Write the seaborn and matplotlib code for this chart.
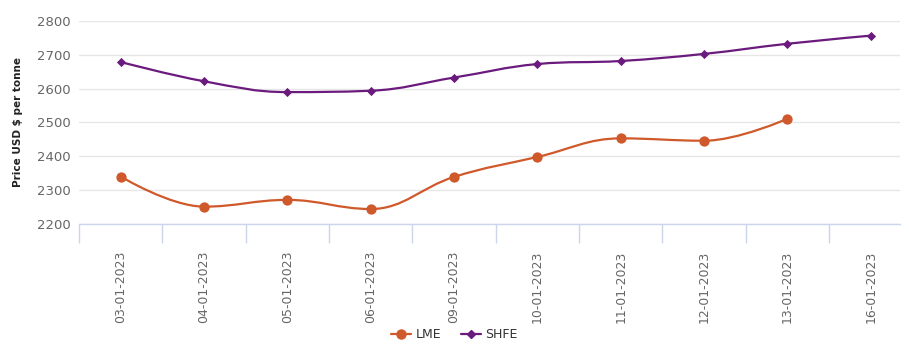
import numpy as np
import pandas as pd
import matplotlib
matplotlib.use("Agg")
import matplotlib.pyplot as plt
import seaborn as sns
from matplotlib.path import Path
from matplotlib.patches import PathPatch
from matplotlib.lines import Line2D

# data
dates = ['03-01-2023', '04-01-2023', '05-01-2023', '06-01-2023', '09-01-2023',
         '10-01-2023', '11-01-2023', '12-01-2023', '13-01-2023', '16-01-2023']
lme = [2340, 2251, 2271, 2244, 2339, 2398, 2453, 2446, 2511, None]
shfe = [2679, 2622, 2590, 2594, 2633, 2673, 2682, 2703, 2733, 2757]

lme_color = '#d0592b'
shfe_color = '#6b1a7d'


def spline_path(xs, ys, smoothing=1.5):
    # highcharts-like spline: cubic bezier through the points
    denom = smoothing + 1
    verts = [(xs[0], ys[0])]
    codes = [Path.MOVETO]
    conts = []
    n = len(xs)
    for i in range(n):
        x, y = xs[i], ys[i]
        if i == 0 or i == n - 1:
            conts.append(((x, y), (x, y)))
            continue
        lx, ly = xs[i - 1], ys[i - 1]
        nx, ny = xs[i + 1], ys[i + 1]
        lcx = (smoothing * x + lx) / denom
        lcy = (smoothing * y + ly) / denom
        rcx = (smoothing * x + nx) / denom
        rcy = (smoothing * y + ny) / denom
        if rcx != lcx:
            corr = ((rcy - lcy) * (rcx - x)) / (rcx - lcx) + y - rcy
            lcy += corr
            rcy += corr
        if lcy > ly and lcy > y:
            lcy = max(ly, y)
            rcy = 2 * y - lcy
        elif lcy < ly and lcy < y:
            lcy = min(ly, y)
            rcy = 2 * y - lcy
        if rcy > ny and rcy > y:
            rcy = max(ny, y)
            lcy = 2 * y - rcy
        elif rcy < ny and rcy < y:
            rcy = min(ny, y)
            lcy = 2 * y - rcy
        conts.append(((lcx, lcy), (rcx, rcy)))
    for i in range(1, n):
        verts += [conts[i - 1][1], conts[i][0], (xs[i], ys[i])]
        codes += [Path.CURVE4] * 3
    return Path(verts, codes)


df = pd.DataFrame({'date': dates, 'LME': lme, 'SHFE': shfe})
df['pos'] = np.arange(len(dates))

sns.set_style('white')
plt.rcParams['font.family'] = ['DejaVu Sans']

fig = plt.figure(figsize=(9.09, 3.52), dpi=100)
ax = fig.add_axes([0.087, 0.364, 0.903, 0.576])

for name, col, mk, ms in [('LME', lme_color, 'o', 55), ('SHFE', shfe_color, 'D', 22)]:
    sub = df.dropna(subset=[name])
    path = spline_path(sub['pos'].tolist(), sub[name].astype(float).tolist())
    ax.add_patch(PathPatch(path, facecolor='none', edgecolor=col, lw=1.6, zorder=3))
    sns.scatterplot(data=sub, x='pos', y=name, color=col, marker=mk, s=ms,
                    edgecolor=col, linewidth=0, ax=ax, zorder=4, legend=False)

ax.set_yticks(range(2200, 2801, 100))
ax.yaxis.grid(True, color='#e6e6e6', lw=1)
ax.set_axisbelow(True)
for s in ['top', 'right', 'left']:
    ax.spines[s].set_visible(False)
ax.spines['bottom'].set_color('#ccd6eb')
ax.spines['bottom'].set_linewidth(1)

ax.set_xticks(df['pos'])
ax.set_xticklabels(dates, rotation=90, fontsize=9, color='#666666')
# tick marks sit between the categories
ax.set_xticks(np.arange(-0.5, 9, 1), minor=True)
ax.tick_params(axis='x', which='major', bottom=False, length=0, pad=19)
ax.tick_params(axis='x', which='minor', bottom=True, length=14, color='#ccd6eb', width=1)
ax.tick_params(axis='y', length=0, labelsize=9.5, labelcolor='#666666', pad=6)
ax.set_xlim(-0.5, 9.35)
ax.set_ylim(2200, 2800)
ax.set_xlabel('')
ax.set_ylabel('Price USD $ per tonne', fontsize=7.5, fontweight='bold', color='#222222', labelpad=10)

handles = [
    Line2D([0], [0], color=lme_color, lw=1.6, marker='o', markersize=6.5, label='LME'),
    Line2D([0], [0], color=shfe_color, lw=1.6, marker='D', markersize=4.5, label='SHFE'),
]
fig.legend(handles=handles, loc='center', bbox_to_anchor=(0.5, 0.05), ncol=2, frameon=False,
           fontsize=9, handlelength=1.6, columnspacing=1.5, handletextpad=0.4,
           labelcolor='#333333')

fig.savefig('out.png', dpi=100)
